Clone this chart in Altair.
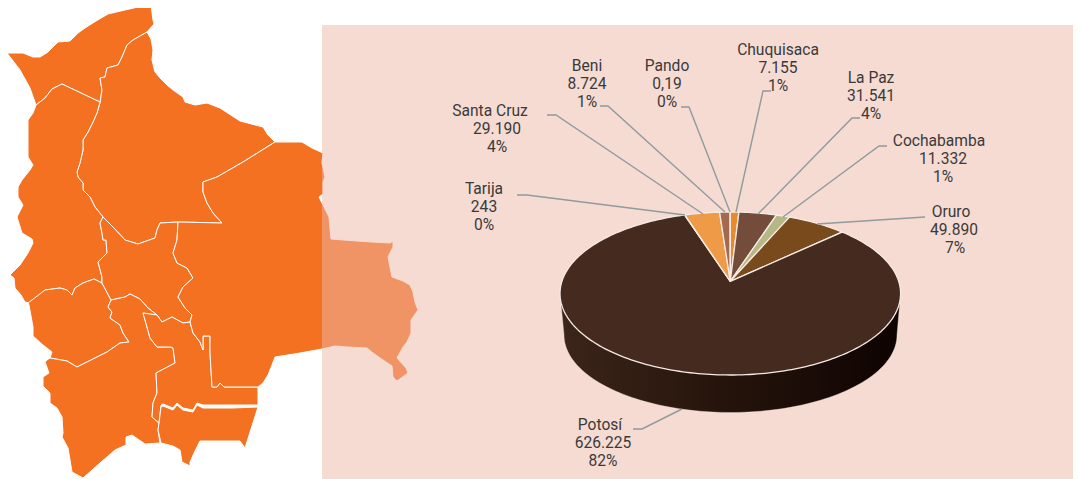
import math
import altair as alt

# ---------- pie data ----------
departments = ["Chuquisaca", "La Paz", "Cochabamba", "Oruro", "Potosí", "Tarija", "Santa Cruz", "Beni", "Pando"]
production = [7.155, 31.541, 11.332, 49.89, 626.225, 0.243, 29.19, 8.724, 0.19]
value_labels = ["7.155", "31.541", "11.332", "49.890", "626.225", "243", "29.190", "8.724", "0,19"]
pct_labels = ["1%", "4%", "1%", "7%", "82%", "0%", "4%", "1%", "0%"]
slice_colors = ["#e68b2f", "#734c3b", "#b5b784", "#794a1b", "#452a20", "#e0a070", "#ee9a46", "#a46a50", "#c98a5c"]

# ---------- map shapes (outline points of each department) ----------
pando = [(7,53),(23,53),(33,57),(40,57),(48,52),(58,42),(70,41),(78,33),(85,28),(96,21),(108,14),(125,10),(138,7),(151,5),(153,20),(154,24),(147,32),
         (133,40),(127,45),(122,57),(118,65),(107,68),(105,77),(100,78),(102,90),(100,102),(62,84),(52,89),(45,98),(36,105),(30,88),(20,70)]
beni = [(147,32),(151,39),(153,50),(152,60),(155,72),(160,78),(167,85),(173,90),(183,97),(185,102),(195,105),(207,103),(220,108),(240,121),(263,127),(268,135),(275,142),
        (243,162),(217,177),(203,182),(203,192),(207,203),(213,213),(222,223),(178,222),(160,223),(157,230),(155,238),(138,244),(125,240),(113,227),(103,217),
        (95,207),(90,197),(83,190),(83,183),(78,177),(77,172),(80,163),(83,150),(83,140),(88,132),(93,122),(97,113),(100,103),(102,90),(100,78),(105,77),(107,68),(118,65),(122,57),(127,45),(133,40)]
la_paz = [(36,105),(45,98),(52,89),(62,84),(100,102),(97,113),(93,122),(88,132),(83,140),(83,150),(80,163),(77,172),(78,177),(83,183),(83,190),(90,197),(95,207),(103,217),
          (100,223),(102,233),(103,240),(106,240),(107,253),(98,262),(102,277),(102,283),(94,279),(83,283),(75,288),(72,295),(67,290),(60,288),(45,290),(37,298),(29,303),
          (25,302),(21,295),(15,288),(14,278),(10,275),(20,265),(28,253),(33,243),(32,239),(22,233),(17,217),(23,205),(18,197),(18,187),(22,180),(30,170),(33,165),(28,157),(28,120),(33,113)]
oruro = [(28,303),(45,290),(60,288),(67,290),(72,295),(75,288),(83,283),(94,279),(102,283),(111,300),(108,307),(112,312),(110,318),(120,325),(123,333),(129,342),(120,343),(107,352),(77,367),
         (67,361),(50,358),(52,352),(43,345),(33,336),(33,327),(29,305)]
cochabamba = [(103,217),(113,227),(125,240),(138,244),(155,238),(157,230),(160,223),(178,222),(177,240),(173,253),(177,263),(187,268),(193,278),(183,287),(178,297),(185,308),(192,315),(190,322),
              (183,323),(172,317),(162,322),(157,315),(148,308),(140,299),(130,294),(125,297),(111,300),(102,283),(102,277),(98,262),(107,253),(106,240),(103,240),(102,233),(100,223)]
potosi = [(47,360),(50,358),(67,361),(77,367),(107,352),(120,343),(129,342),(123,333),(120,325),(110,318),(112,312),(108,307),(111,300),(125,297),(130,294),(140,299),(148,308),(157,315),(143,313),
          (147,327),(150,338),(157,347),(171,347),(173,348),(175,363),(156,373),(157,393),(153,403),(152,417),(159,423),(158,430),(160,443),(145,444),(132,435),(126,437),(126,445),(115,450),(100,463),(83,478),
          (72,472),(68,448),(62,437),(63,433),(62,417),(57,408),(50,403),(50,393),(43,386),(43,377),(49,373),(45,362)]
chuquisaca = [(143,313),(157,315),(162,322),(172,317),(183,323),(190,322),(193,333),(200,342),(203,350),(203,336),(210,336),(210,353),(212,387),(217,387),(220,383),(224,387),(258,387),(258,405),
              (232,405),(203,405),(197,403),(193,410),(183,408),(177,403),(173,408),(163,404),(161,405),(159,423),(152,417),(153,403),(157,393),(156,373),(175,363),(173,348),(171,347),(157,347),(150,338),(147,327)]
tarija = [(161,407),(163,406),(173,410),(177,405),(183,410),(193,412),(197,405),(203,408),(232,408),(258,407),(245,448),(240,441),(200,441),(195,451),(190,462),(190,466),(182,462),(180,450),(173,446),(161,443),(158,430),(159,423)]
santa_cruz = [(275,142),(280,142),(302,142),(312,148),(323,153),(322,163),(325,177),(323,182),(323,194),(319,197),(322,203),(329,217),(331,239),(357,241),(372,242),(390,243),(393,241),(393,247),(388,257),
              (392,277),(403,281),(410,285),(413,292),(415,302),(418,310),(411,320),(411,333),(407,342),(403,347),(397,358),(406,368),(408,373),(397,381),(393,377),(392,366),(383,360),(373,353),(367,348),(347,347),(335,346),
              (322,349),(300,353),(275,357),(272,365),(268,375),(263,383),(258,387),(224,387),(220,383),(217,387),(212,387),(210,353),(210,336),(203,336),(203,350),(200,342),(193,333),(190,322),(192,315),(185,308),(178,297),(183,287),(193,278),(187,268),(177,263),(173,253),(177,240),(178,222),(222,223),(213,213),(207,203),(203,192),(203,182),(217,177),(243,162)]
map_shapes = [pando, beni, la_paz, oruro, cochabamba, potosi, chuquisaca, tarija, santa_cruz]

# ---------- label placement and leader lines ----------
label_x = {"Chuquisaca": (778, 778, 778), "La Paz": (871, 871, 871), "Cochabamba": (939, 943, 943), "Oruro": (951, 954, 955),
           "Potosí": (600, 603, 603), "Tarija": (484, 484, 484), "Santa Cruz": (490, 497, 497), "Beni": (587, 587, 587), "Pando": (667, 667, 667)}
label_y = {"Chuquisaca": 50, "La Paz": 78, "Cochabamba": 141, "Oruro": 212, "Potosí": 425, "Tarija": 189, "Santa Cruz": 111, "Beni": 66, "Pando": 66}
leaders = {
    "Chuquisaca": [(771, 91), (763, 91), (736, 212)],
    "La Paz": [(860, 118), (852, 118), (758, 214)],
    "Cochabamba": [(887, 146), (879, 146), (783, 217)],
    "Oruro": [(925, 217), (817, 224)],
    "Potosí": [(633, 429), (642, 429), (682, 409)],
    "Tarija": [(517, 195), (527, 195), (685, 215)],
    "Santa Cruz": [(547, 115), (556, 115), (703, 214)],
    "Beni": [(600, 106), (608, 106), (725, 212)],
    "Pando": [(681, 107), (689, 107), (730, 212)],
}

# ---------- pie geometry ----------
CX, CY, RX, RY = 730.3, 293.5, 170.3, 81.5
BX, BY, BRX, BRY = 730.5, 335.0, 166.5, 77.5
PERSPECTIVE = 0.86


def rim(theta):
    """Point of the tilted disc's rim for a true pie angle theta."""
    phi = 2 * math.atan2(PERSPECTIVE * math.sin(theta / 2), math.cos(theta / 2))
    return (CX + RX * math.sin(phi), CY - RY * math.cos(phi))


apex = (CX, rim(math.pi / 2)[1])


def feature(rings, **props):
    pts = [list(map(float, p)) for p in rings]
    pts.append(pts[0])
    return {"type": "Feature", "properties": props, "geometry": {"type": "Polygon", "coordinates": [pts]}}


total = sum(production)
slice_features = []
cum = 0.0
for name, val, col in zip(departments, production, slice_colors):
    a0 = cum / total * 2 * math.pi
    cum += val
    a1 = cum / total * 2 * math.pi
    n = max(2, int((a1 - a0) / 0.02))
    arc = [rim(a0 + (a1 - a0) * i / n) for i in range(n + 1)]
    slice_features.append(feature([apex] + arc, name=name, color=col))

side_pts = [(CX - RX, CY)]
for i in range(121):
    t = math.pi * i / 120
    side_pts.append((BX - BRX * math.cos(t), BY + BRY * math.sin(t)))
side_pts.append((CX + RX, CY))
side_feature = feature(side_pts, name="side")

PROJ = dict(type="identity", scale=1, translate=[-8, -8])
x_scale = alt.Scale(domain=[8, 1073], range=[0, 1065], nice=False, zero=False)
y_scale = alt.Scale(domain=[8, 479], range=[0, 471], nice=False, zero=False)

map_layer = alt.Chart(alt.Data(values=[feature(s, name=str(i)) for i, s in enumerate(map_shapes)])).mark_geoshape(
    fill="#f57122", stroke="#ffffff", strokeWidth=1.0
).project(**PROJ)

panel = alt.Chart(alt.Data(values=[{"x": 322, "x2": 1073, "y": 25, "y2": 479}])).mark_rect(
    color="#edb7a7", opacity=0.5
).encode(
    x=alt.X("x:Q", scale=x_scale, axis=None), x2="x2:Q",
    y=alt.Y("y:Q", scale=y_scale, axis=None), y2="y2:Q",
)

side_layer = alt.Chart(alt.Data(values=[side_feature])).mark_geoshape(
    fill=alt.LinearGradient(
        gradient="linear", x1=0, x2=1, y1=0, y2=0,
        stops=[
            alt.GradientStop(offset=0, color="#3c2519"),
            alt.GradientStop(offset=0.5, color="#24130b"),
            alt.GradientStop(offset=1, color="#0e0302"),
        ],
    ),
    stroke="#f3e6df", strokeWidth=0.4,
).project(**PROJ)

slice_layer = alt.Chart(alt.Data(values=slice_features)).mark_geoshape(
    stroke="#f6ebe4", strokeWidth=1.3
).encode(
    fill=alt.Fill("properties.color:N", scale=None)
).project(**PROJ)

leader_rows = []
for name, path in leaders.items():
    for k, (px, py) in enumerate(path):
        leader_rows.append({"name": name, "k": k, "x": px, "y": py})
leader_layer = alt.Chart(alt.Data(values=leader_rows)).mark_line(
    color="#8f9b9d", strokeWidth=1.4
).encode(
    x=alt.X("x:Q", scale=x_scale, axis=None),
    y=alt.Y("y:Q", scale=y_scale, axis=None),
    detail="name:N",
    order="k:Q",
)

text_rows = []
for name, val, pct in zip(departments, value_labels, pct_labels):
    for j, line in enumerate((name, val, pct)):
        text_rows.append({"t": line, "x": label_x[name][j], "y": label_y[name] + 18 * j})
text_layer = alt.Chart(alt.Data(values=text_rows)).mark_text(
    font="Roboto", fontSize=15.6, color="#3a3a3a", baseline="middle", align="center"
).encode(
    x=alt.X("x:Q", scale=x_scale, axis=None),
    y=alt.Y("y:Q", scale=y_scale, axis=None),
    text="t:N",
)

chart = alt.layer(map_layer, panel, side_layer, slice_layer, leader_layer, text_layer).properties(
    width=1065, height=471, padding=0,
    autosize=alt.AutoSizeParams(type="none"),
    background="#ffffff",
).configure_view(stroke=None)

chart.save("out.html", embed_options={"renderer": "svg", "actions": False})
